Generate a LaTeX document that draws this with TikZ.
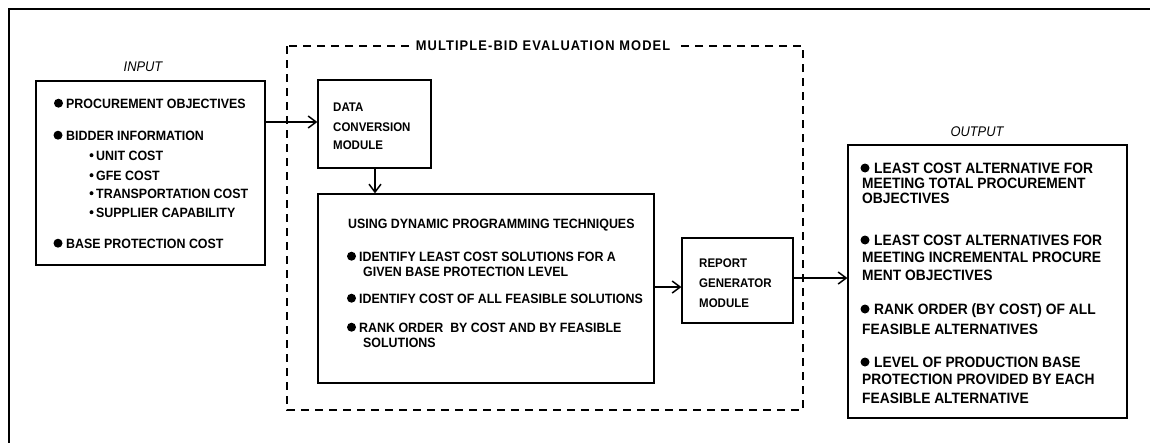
\documentclass[tikz,border=0pt]{standalone}
\usepackage{fontspec}
\setmainfont[FakeStretch=0.92]{Liberation Sans}
\usetikzlibrary{arrows.meta}
\tikzset{
  box/.style={draw, line width=1.2pt, inner sep=0, rectangle},
  arr/.style={line width=1.2pt, -{Straight Barb[length=8pt,width=12pt,line width=1.5pt]}},
  t/.style={anchor=base west, inner sep=0, font=\bfseries\fontsize{13.5}{15}\selectfont},
  tm/.style={anchor=base west, inner sep=0, font=\bfseries\fontsize{12.5}{14}\selectfont},
  to/.style={anchor=base west, inner sep=0, font=\bfseries\fontsize{15}{17}\selectfont},
  lbl/.style={inner sep=0, font=\itshape\fontsize{14}{16}\selectfont},
}
\begin{document}
\begin{tikzpicture}[x=1pt,y=-1pt]
\useasboundingbox (0,0) rectangle (1150,442);
% outer frame
\draw[line width=2pt] (9,460) -- (9,9) -- (1170,9);
% dashed model frame
\draw[line width=1.2pt, dash pattern=on 8pt off 6pt] (287,46) rectangle (803,410);
\node[fill=white, inner xsep=6pt, inner ysep=2pt, font=\bfseries\fontsize{14}{16}\selectfont\addfontfeature{LetterSpace=8}] (title) at (543,46) {MULTIPLE-BID EVALUATION MODEL};
% boxes
\node[box, minimum width=229pt, minimum height=184pt] (inp) at (150.5,173) {};
\node[box, minimum width=113pt, minimum height=88pt] (dcm) at (374.5,124) {};
\node[box, minimum width=336pt, minimum height=189pt] (big) at (486,288.5) {};
\node[box, minimum width=111pt, minimum height=85pt] (rg) at (737.5,280.5) {};
\node[box, minimum width=279pt, minimum height=273pt] (out) at (987.5,281.5) {};
% labels
\node[lbl] (inlbl) at (143,67) {INPUT};
\node[lbl] (outlbl) at (977,132) {OUTPUT};
% connectors
\draw[arr] (inp.east |- 0,122) -- (dcm.west |- 0,122);
\draw[arr] (dcm.south -| 375,0) -- (big.north -| 375,0);
\draw[arr] (big.east |- 0,287) -- (rg.west |- 0,287);
\draw[arr] (rg.east |- 0,278) -- (out.west |- 0,278);
% input text
\node[t] (i1) at (66,108) {PROCUREMENT OBJECTIVES};
\node[t] (i2) at (66,140) {BIDDER INFORMATION};
\node[t] (i3) at (96,160) {UNIT COST};
\node[t] (i4) at (96,180) {GFE COST};
\node[t] (i5) at (96,198) {TRANSPORTATION COST};
\node[t] (i6) at (96,217) {SUPPLIER CAPABILITY};
\node[t] (i7) at (66,248) {BASE PROTECTION COST};
\fill (58.5,103.2) circle (4.5pt) (58,135.2) circle (4.5pt) (58,243.2) circle (4.5pt);
\fill (91.5,155.2) circle (2pt) (91.5,175.2) circle (2pt) (91.5,193.2) circle (2pt) (91.5,212.2) circle (2pt);
% data conversion module
\node[tm] (d1) at (333,111.5) {DATA};
\node[tm] (d2) at (333,131.5) {CONVERSION};
\node[tm] (d3) at (333,149.5) {MODULE};
% big box text
\node[t] (b0) at (348,228) {USING DYNAMIC PROGRAMMING TECHNIQUES};
\node[t] (b1) at (359,261) {IDENTIFY LEAST COST SOLUTIONS FOR A};
\node[t] (b2) at (363,276) {GIVEN BASE PROTECTION LEVEL};
\node[t] (b3) at (359,303) {IDENTIFY COST OF ALL FEASIBLE SOLUTIONS};
\node[t] (b4) at (359,332) {RANK ORDER \ BY COST AND BY FEASIBLE};
\node[t] (b5) at (363,347) {SOLUTIONS};
\fill (351.5,256.2) circle (4.5pt) (351.5,298.2) circle (4.5pt) (351.5,327.2) circle (4.5pt);
% report generator
\node[tm] (r1) at (699,267.5) {REPORT};
\node[tm] (r2) at (699,287.5) {GENERATOR};
\node[tm] (r3) at (699,307.5) {MODULE};
% output text
\node[to] (o1) at (874,173.4) {LEAST COST ALTERNATIVE FOR};
\node[to] (o2) at (862,188.4) {MEETING TOTAL PROCUREMENT};
\node[to] (o3) at (862,203.4) {OBJECTIVES};
\node[to] (o4) at (874,245.4) {LEAST COST ALTERNATIVES FOR};
\node[to] (o5) at (862,262.4) {MEETING INCREMENTAL PROCURE};
\node[to] (o6) at (862,280.4) {MENT OBJECTIVES};
\node[to] (o7) at (874,314.4) {RANK ORDER (BY COST) OF ALL};
\node[to] (o8) at (862,334.4) {FEASIBLE ALTERNATIVES};
\node[to] (o9) at (874,367.4) {LEVEL OF PRODUCTION BASE};
\node[to] (o10) at (862,384.4) {PROTECTION PROVIDED BY EACH};
\node[to] (o11) at (862,403.4) {FEASIBLE ALTERNATIVE};
\fill (865,168) circle (4.5pt) (865,240) circle (4.5pt) (865,309) circle (4.5pt) (865,362) circle (4.5pt);
\end{tikzpicture}
\end{document}
